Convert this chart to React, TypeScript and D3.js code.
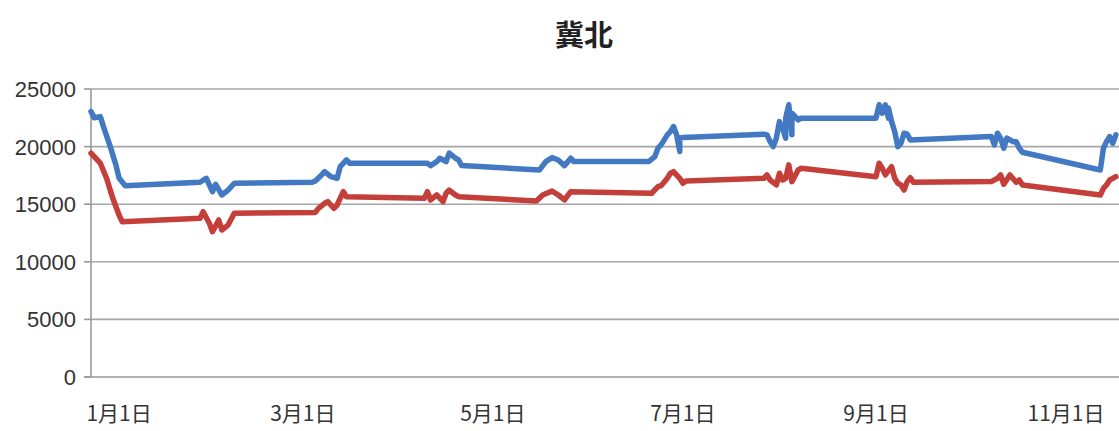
import { useRef, useEffect } from 'react';
import { select, scaleLinear, scaleTime, line, timeParse, range } from 'd3';

const title = '冀北';
const yTicks = range(0, 25001, 5000);
const xTickDates = ['2018-01-01', '2018-03-01', '2018-05-01', '2018-07-01', '2018-09-01', '2018-11-01'];
const xTickLabels = ['1月1日', '3月1日', '5月1日', '7月1日', '9月1日', '11月1日'];
const xDomain = ['2017-12-23', '2018-11-18'];

const blueSeries: [string, number][] = [
  ['2017-12-23', 23040], ['2017-12-24', 22500], ['2017-12-26', 22600], ['2017-12-27', 21740],
  ['2017-12-29', 20150], ['2017-12-31', 18400], ['2018-01-01', 17280], ['2018-01-03', 16600],
  ['2018-01-27', 16900], ['2018-01-29', 17250], ['2018-01-31', 16090], ['2018-02-01', 16730],
  ['2018-02-03', 15800], ['2018-02-05', 16230], ['2018-02-07', 16820], ['2018-03-04', 16900],
  ['2018-03-05', 17020], ['2018-03-07', 17540], ['2018-03-08', 17830], ['2018-03-10', 17390],
  ['2018-03-12', 17250], ['2018-03-13', 18260], ['2018-03-15', 18840], ['2018-03-16', 18560],
  ['2018-04-10', 18560], ['2018-04-11', 18350], ['2018-04-13', 18700], ['2018-04-14', 18990],
  ['2018-04-16', 18700], ['2018-04-17', 19430], ['2018-04-19', 18990], ['2018-04-20', 18840],
  ['2018-04-21', 18350], ['2018-05-16', 17970], ['2018-05-18', 18700], ['2018-05-20', 19040],
  ['2018-05-22', 18840], ['2018-05-24', 18350], ['2018-05-26', 18990], ['2018-05-27', 18700],
  ['2018-06-20', 18700], ['2018-06-22', 19130], ['2018-06-23', 19860], ['2018-06-24', 20150],
  ['2018-06-26', 21020], ['2018-06-27', 21300], ['2018-06-28', 21740], ['2018-06-29', 21020],
  ['2018-06-30', 19570], ['2018-06-30', 20730], ['2018-07-01', 20800], ['2018-07-27', 21080],
  ['2018-07-28', 21020], ['2018-07-29', 20430], ['2018-07-30', 20000], ['2018-07-31', 20730],
  ['2018-08-01', 22170], ['2018-08-02', 21600], ['2018-08-03', 20730], ['2018-08-03', 22470],
  ['2018-08-04', 23630], ['2018-08-05', 21020], ['2018-08-05', 22900], ['2018-08-07', 22320],
  ['2018-08-08', 22470], ['2018-09-01', 22470], ['2018-09-02', 23630], ['2018-09-03', 22900],
  ['2018-09-04', 23630], ['2018-09-05', 22470], ['2018-09-05', 23340], ['2018-09-06', 22170],
  ['2018-09-07', 21300], ['2018-09-08', 20000], ['2018-09-09', 20290], ['2018-09-10', 21160],
  ['2018-09-11', 21080], ['2018-09-12', 20580], ['2018-10-08', 20870], ['2018-10-09', 20150],
  ['2018-10-10', 21160], ['2018-10-11', 20730], ['2018-10-12', 19860], ['2018-10-13', 20730],
  ['2018-10-15', 20430], ['2018-10-16', 20430], ['2018-10-17', 19860], ['2018-10-18', 19510],
  ['2018-11-12', 17970], ['2018-11-13', 19860], ['2018-11-14', 20430], ['2018-11-15', 20870],
  ['2018-11-16', 20290], ['2018-11-17', 21020],
];

const redSeries: [string, number][] = [
  ['2017-12-23', 19430], ['2017-12-25', 18840], ['2017-12-26', 18560], ['2017-12-28', 17250],
  ['2017-12-30', 15510], ['2018-01-01', 14060], ['2018-01-02', 13480], ['2018-01-27', 13770],
  ['2018-01-28', 14350], ['2018-01-30', 13340], ['2018-01-31', 12610], ['2018-02-02', 13630],
  ['2018-02-03', 12760], ['2018-02-05', 13190], ['2018-02-07', 14210], ['2018-03-05', 14290],
  ['2018-03-06', 14640], ['2018-03-08', 15080], ['2018-03-09', 15220], ['2018-03-11', 14640],
  ['2018-03-12', 14930], ['2018-03-14', 16090], ['2018-03-15', 15650], ['2018-04-09', 15510],
  ['2018-04-10', 16090], ['2018-04-11', 15370], ['2018-04-13', 15800], ['2018-04-15', 15220],
  ['2018-04-16', 15950], ['2018-04-17', 16230], ['2018-04-19', 15800], ['2018-04-20', 15650],
  ['2018-05-15', 15280], ['2018-05-17', 15800], ['2018-05-20', 16150], ['2018-05-22', 15800],
  ['2018-05-24', 15370], ['2018-05-26', 16090], ['2018-06-21', 15950], ['2018-06-23', 16520],
  ['2018-06-24', 16610], ['2018-06-26', 17250], ['2018-06-27', 17690], ['2018-06-28', 17830],
  ['2018-06-30', 17250], ['2018-07-01', 16820], ['2018-07-02', 17020], ['2018-07-27', 17250],
  ['2018-07-28', 17540], ['2018-07-29', 17100], ['2018-07-31', 16670], ['2018-08-01', 17690],
  ['2018-08-02', 17100], ['2018-08-03', 17250], ['2018-08-04', 18410], ['2018-08-05', 16960],
  ['2018-08-07', 17970], ['2018-08-08', 18120], ['2018-09-01', 17390], ['2018-09-02', 18560],
  ['2018-09-03', 18120], ['2018-09-04', 17540], ['2018-09-06', 18260], ['2018-09-07', 17250],
  ['2018-09-08', 16820], ['2018-09-09', 16670], ['2018-09-10', 16230], ['2018-09-11', 16960],
  ['2018-09-12', 17300], ['2018-09-13', 16900], ['2018-10-08', 16960], ['2018-10-10', 17250],
  ['2018-10-11', 17540], ['2018-10-12', 16730], ['2018-10-14', 17540], ['2018-10-16', 16900],
  ['2018-10-17', 17100], ['2018-10-18', 16670], ['2018-11-12', 15800], ['2018-11-13', 16380],
  ['2018-11-14', 16670], ['2018-11-15', 17100], ['2018-11-16', 17250], ['2018-11-17', 17390],
];

const W = 1119;
const H = 431;

const App = () => {
  const ref = useRef(null);

  useEffect(() => {
    if (!ref.current) return;
    const parse = timeParse('%Y-%m-%d');
    const left = 91;
    const right = 1119;
    const top = 89;
    const bottom = 377;

    const x = scaleTime()
      .domain(xDomain.map((d) => parse(d) as Date))
      .range([left, right]);
    const y = scaleLinear().domain([0, 25000]).range([bottom, top]);

    const svg = select(ref.current);
    svg.selectAll('*').remove();

    svg
      .append('text')
      .attr('x', 584)
      .attr('y', 46)
      .attr('text-anchor', 'middle')
      .style('font-family', '"Noto Sans CJK SC", sans-serif')
      .style('font-weight', 'bold')
      .style('font-size', '29px')
      .attr('fill', '#222')
      .text(title);

    // grid
    svg
      .append('g')
      .selectAll('line')
      .data(yTicks.filter((t) => t > 0))
      .join('line')
      .attr('x1', left)
      .attr('x2', right)
      .attr('y1', (d) => y(d))
      .attr('y2', (d) => y(d))
      .attr('stroke', '#a6a6a6')
      .attr('stroke-width', 1.6);

    // axes
    svg
      .append('line')
      .attr('x1', left)
      .attr('x2', left)
      .attr('y1', top)
      .attr('y2', bottom)
      .attr('stroke', '#9a9a9a')
      .attr('stroke-width', 1.6);
    svg
      .append('line')
      .attr('x1', left - 7)
      .attr('x2', right)
      .attr('y1', bottom)
      .attr('y2', bottom)
      .attr('stroke', '#9a9a9a')
      .attr('stroke-width', 1.6);

    const yg = svg.append('g');
    yg.selectAll('line')
      .data(yTicks)
      .join('line')
      .attr('x1', left - 7)
      .attr('x2', left)
      .attr('y1', (d) => y(d))
      .attr('y2', (d) => y(d))
      .attr('stroke', '#9a9a9a')
      .attr('stroke-width', 1.6);
    yg.selectAll('text')
      .data(yTicks)
      .join('text')
      .attr('x', 76)
      .attr('y', (d) => y(d))
      .attr('dy', '0.36em')
      .attr('text-anchor', 'end')
      .style('font-family', '"Liberation Sans", Arial, sans-serif')
      .style('font-size', '22px')
      .attr('fill', '#333')
      .text((d) => String(d));

    svg
      .append('g')
      .selectAll('text')
      .data(xTickDates)
      .join('text')
      .attr('x', (d) => x(parse(d) as Date))
      .attr('y', 421)
      .attr('text-anchor', 'middle')
      .style('font-family', '"Noto Sans CJK SC", sans-serif')
      .style('font-size', '21px')
      .attr('fill', '#333')
      .text((_, i) => xTickLabels[i]);

    const path = line<[string, number]>()
      .x((d) => x(parse(d[0]) as Date))
      .y((d) => y(d[1]));

    const series: [[string, number][], string][] = [
      [blueSeries, '#4279c2'],
      [redSeries, '#c43f3a'],
    ];
    series.forEach(([data, color]) => {
      svg
        .append('path')
        .attr('d', path(data))
        .attr('fill', 'none')
        .attr('stroke', color)
        .attr('stroke-width', 5.5)
        .attr('stroke-linejoin', 'round')
        .attr('stroke-linecap', 'round');
    });
  }, []);

  return (
    <svg
      ref={ref}
      width={W}
      height={H}
      style={{ position: 'absolute', left: 0, top: 0, background: '#fff' }}
    />
  );
};

export default App;
